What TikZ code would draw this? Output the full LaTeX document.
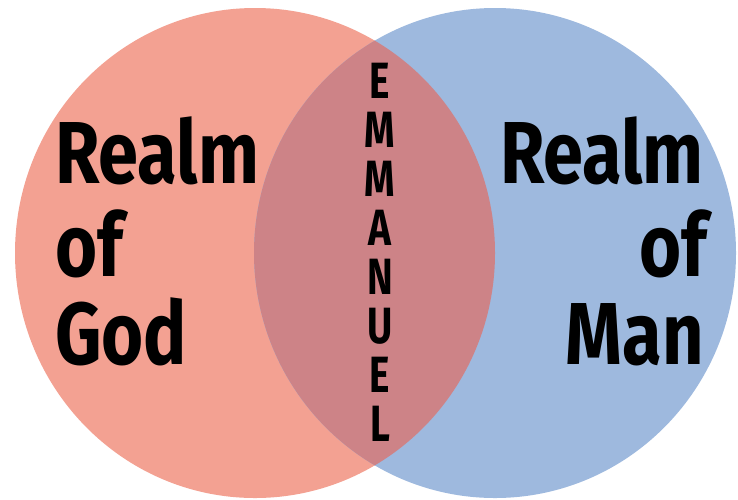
\documentclass[tikz,border=0pt]{standalone}
\usepackage{fontspec}
\setmainfont{Fira Sans}
\definecolor{godred}{RGB}{243,161,146}
\definecolor{manblue}{RGB}{158,185,222}
\definecolor{lensred}{RGB}{205,131,135}
\tikzset{
	realm/.style={inner sep=0pt, font=\fontsize{88}{88}\selectfont\bfseries, xscale=0.82},
	letter/.style={inner sep=0pt, anchor=base, font=\fontsize{51}{51}\selectfont\bfseries, xscale=0.76}
}
\begin{document}
\begin{tikzpicture}[x=1pt, y=-1pt]
			\useasboundingbox (0, 0) rectangle (738, 499);

			\fill[godred]	(255, 253) ellipse [x radius=240, y radius=245];
			\fill[manblue]	(495, 253) ellipse [x radius=241, y radius=245];
			\begin{scope}
				\clip (255, 253) ellipse [x radius=240, y radius=245];
				\fill[lensred]	(495, 253) ellipse [x radius=241, y radius=245];
			\end{scope}

			\node[realm, anchor=base west] (godA) at (55, 183) {Realm};
			\node[realm, anchor=base west] (godB) at (55, 276) {of};
			\node[realm, anchor=base west] (godC) at (55, 364) {God};

			\node[realm, anchor=base east] (manA) at (704, 183) {Realm};
			\node[realm, anchor=base east] (manB) at (707, 276) {of};
			\node[realm, anchor=base east] (manC) at (704, 364) {Man};

			\foreach \ch [count=\i from 0] in {E,M,M,A,N,U,E,L}
				\node[letter] (emm\i) at (380, 98+49*\i) {\ch};
		\end{tikzpicture}
\end{document}
